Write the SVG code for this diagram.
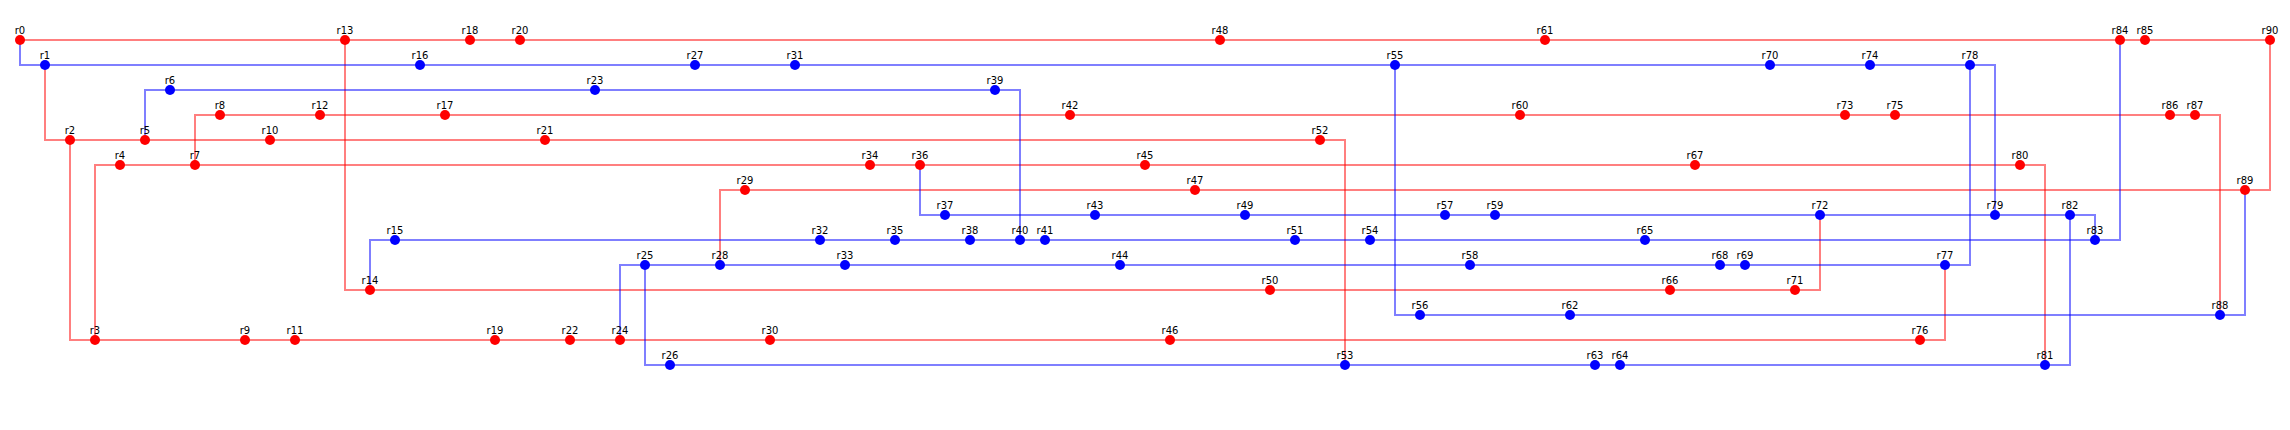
<svg xmlns="http://www.w3.org/2000/svg" width="2290" height="430" viewBox="0 0 2290 430">
<style>
.e{fill:none;stroke-width:2;stroke-opacity:0.5}
.er{stroke:#ff0000}
.eb{stroke:#0000ff}
.R circle{fill:#ff0000}
.B circle{fill:#0000ff}
text{font-family:"DejaVu Sans",sans-serif;font-size:10px;text-anchor:middle;fill:#000}
</style>
<rect width="2290" height="430" fill="#ffffff"/>
<g id="connectors">
<path class="e er" d="M20,40 H2270 V190 H720 V265"/>
<path class="e er" d="M345,40 V290 H1820 V215"/>
<path class="e er" d="M45,65 V140 H1345 V365"/>
<path class="e er" d="M70,140 V340 H1945 V265"/>
<path class="e er" d="M95,340 V165 H2045 V365"/>
<path class="e er" d="M195,165 V115 H2220 V315"/>
<path class="e eb" d="M20,40 V65 H1995 V215"/>
<path class="e eb" d="M145,140 V90 H1020 V240"/>
<path class="e eb" d="M920,165 V215 H2095 V240"/>
<path class="e eb" d="M370,290 V240 H2120 V40"/>
<path class="e eb" d="M620,340 V265 H1970 V65"/>
<path class="e eb" d="M645,265 V365 H2070 V215"/>
<path class="e eb" d="M1395,65 V315 H2245 V190"/>
</g>
<g id="r0" class="R"><circle cx="20" cy="40" r="5"/><text x="20" y="33.5">r0</text></g>
<g id="r1" class="B"><circle cx="45" cy="65" r="5"/><text x="45" y="58.5">r1</text></g>
<g id="r2" class="R"><circle cx="70" cy="140" r="5"/><text x="70" y="133.5">r2</text></g>
<g id="r3" class="R"><circle cx="95" cy="340" r="5"/><text x="95" y="333.5">r3</text></g>
<g id="r4" class="R"><circle cx="120" cy="165" r="5"/><text x="120" y="158.5">r4</text></g>
<g id="r5" class="R"><circle cx="145" cy="140" r="5"/><text x="145" y="133.5">r5</text></g>
<g id="r6" class="B"><circle cx="170" cy="90" r="5"/><text x="170" y="83.5">r6</text></g>
<g id="r7" class="R"><circle cx="195" cy="165" r="5"/><text x="195" y="158.5">r7</text></g>
<g id="r8" class="R"><circle cx="220" cy="115" r="5"/><text x="220" y="108.5">r8</text></g>
<g id="r9" class="R"><circle cx="245" cy="340" r="5"/><text x="245" y="333.5">r9</text></g>
<g id="r10" class="R"><circle cx="270" cy="140" r="5"/><text x="270" y="133.5">r10</text></g>
<g id="r11" class="R"><circle cx="295" cy="340" r="5"/><text x="295" y="333.5">r11</text></g>
<g id="r12" class="R"><circle cx="320" cy="115" r="5"/><text x="320" y="108.5">r12</text></g>
<g id="r13" class="R"><circle cx="345" cy="40" r="5"/><text x="345" y="33.5">r13</text></g>
<g id="r14" class="R"><circle cx="370" cy="290" r="5"/><text x="370" y="283.5">r14</text></g>
<g id="r15" class="B"><circle cx="395" cy="240" r="5"/><text x="395" y="233.5">r15</text></g>
<g id="r16" class="B"><circle cx="420" cy="65" r="5"/><text x="420" y="58.5">r16</text></g>
<g id="r17" class="R"><circle cx="445" cy="115" r="5"/><text x="445" y="108.5">r17</text></g>
<g id="r18" class="R"><circle cx="470" cy="40" r="5"/><text x="470" y="33.5">r18</text></g>
<g id="r19" class="R"><circle cx="495" cy="340" r="5"/><text x="495" y="333.5">r19</text></g>
<g id="r20" class="R"><circle cx="520" cy="40" r="5"/><text x="520" y="33.5">r20</text></g>
<g id="r21" class="R"><circle cx="545" cy="140" r="5"/><text x="545" y="133.5">r21</text></g>
<g id="r22" class="R"><circle cx="570" cy="340" r="5"/><text x="570" y="333.5">r22</text></g>
<g id="r23" class="B"><circle cx="595" cy="90" r="5"/><text x="595" y="83.5">r23</text></g>
<g id="r24" class="R"><circle cx="620" cy="340" r="5"/><text x="620" y="333.5">r24</text></g>
<g id="r25" class="B"><circle cx="645" cy="265" r="5"/><text x="645" y="258.5">r25</text></g>
<g id="r26" class="B"><circle cx="670" cy="365" r="5"/><text x="670" y="358.5">r26</text></g>
<g id="r27" class="B"><circle cx="695" cy="65" r="5"/><text x="695" y="58.5">r27</text></g>
<g id="r28" class="B"><circle cx="720" cy="265" r="5"/><text x="720" y="258.5">r28</text></g>
<g id="r29" class="R"><circle cx="745" cy="190" r="5"/><text x="745" y="183.5">r29</text></g>
<g id="r30" class="R"><circle cx="770" cy="340" r="5"/><text x="770" y="333.5">r30</text></g>
<g id="r31" class="B"><circle cx="795" cy="65" r="5"/><text x="795" y="58.5">r31</text></g>
<g id="r32" class="B"><circle cx="820" cy="240" r="5"/><text x="820" y="233.5">r32</text></g>
<g id="r33" class="B"><circle cx="845" cy="265" r="5"/><text x="845" y="258.5">r33</text></g>
<g id="r34" class="R"><circle cx="870" cy="165" r="5"/><text x="870" y="158.5">r34</text></g>
<g id="r35" class="B"><circle cx="895" cy="240" r="5"/><text x="895" y="233.5">r35</text></g>
<g id="r36" class="R"><circle cx="920" cy="165" r="5"/><text x="920" y="158.5">r36</text></g>
<g id="r37" class="B"><circle cx="945" cy="215" r="5"/><text x="945" y="208.5">r37</text></g>
<g id="r38" class="B"><circle cx="970" cy="240" r="5"/><text x="970" y="233.5">r38</text></g>
<g id="r39" class="B"><circle cx="995" cy="90" r="5"/><text x="995" y="83.5">r39</text></g>
<g id="r40" class="B"><circle cx="1020" cy="240" r="5"/><text x="1020" y="233.5">r40</text></g>
<g id="r41" class="B"><circle cx="1045" cy="240" r="5"/><text x="1045" y="233.5">r41</text></g>
<g id="r42" class="R"><circle cx="1070" cy="115" r="5"/><text x="1070" y="108.5">r42</text></g>
<g id="r43" class="B"><circle cx="1095" cy="215" r="5"/><text x="1095" y="208.5">r43</text></g>
<g id="r44" class="B"><circle cx="1120" cy="265" r="5"/><text x="1120" y="258.5">r44</text></g>
<g id="r45" class="R"><circle cx="1145" cy="165" r="5"/><text x="1145" y="158.5">r45</text></g>
<g id="r46" class="R"><circle cx="1170" cy="340" r="5"/><text x="1170" y="333.5">r46</text></g>
<g id="r47" class="R"><circle cx="1195" cy="190" r="5"/><text x="1195" y="183.5">r47</text></g>
<g id="r48" class="R"><circle cx="1220" cy="40" r="5"/><text x="1220" y="33.5">r48</text></g>
<g id="r49" class="B"><circle cx="1245" cy="215" r="5"/><text x="1245" y="208.5">r49</text></g>
<g id="r50" class="R"><circle cx="1270" cy="290" r="5"/><text x="1270" y="283.5">r50</text></g>
<g id="r51" class="B"><circle cx="1295" cy="240" r="5"/><text x="1295" y="233.5">r51</text></g>
<g id="r52" class="R"><circle cx="1320" cy="140" r="5"/><text x="1320" y="133.5">r52</text></g>
<g id="r53" class="B"><circle cx="1345" cy="365" r="5"/><text x="1345" y="358.5">r53</text></g>
<g id="r54" class="B"><circle cx="1370" cy="240" r="5"/><text x="1370" y="233.5">r54</text></g>
<g id="r55" class="B"><circle cx="1395" cy="65" r="5"/><text x="1395" y="58.5">r55</text></g>
<g id="r56" class="B"><circle cx="1420" cy="315" r="5"/><text x="1420" y="308.5">r56</text></g>
<g id="r57" class="B"><circle cx="1445" cy="215" r="5"/><text x="1445" y="208.5">r57</text></g>
<g id="r58" class="B"><circle cx="1470" cy="265" r="5"/><text x="1470" y="258.5">r58</text></g>
<g id="r59" class="B"><circle cx="1495" cy="215" r="5"/><text x="1495" y="208.5">r59</text></g>
<g id="r60" class="R"><circle cx="1520" cy="115" r="5"/><text x="1520" y="108.5">r60</text></g>
<g id="r61" class="R"><circle cx="1545" cy="40" r="5"/><text x="1545" y="33.5">r61</text></g>
<g id="r62" class="B"><circle cx="1570" cy="315" r="5"/><text x="1570" y="308.5">r62</text></g>
<g id="r63" class="B"><circle cx="1595" cy="365" r="5"/><text x="1595" y="358.5">r63</text></g>
<g id="r64" class="B"><circle cx="1620" cy="365" r="5"/><text x="1620" y="358.5">r64</text></g>
<g id="r65" class="B"><circle cx="1645" cy="240" r="5"/><text x="1645" y="233.5">r65</text></g>
<g id="r66" class="R"><circle cx="1670" cy="290" r="5"/><text x="1670" y="283.5">r66</text></g>
<g id="r67" class="R"><circle cx="1695" cy="165" r="5"/><text x="1695" y="158.5">r67</text></g>
<g id="r68" class="B"><circle cx="1720" cy="265" r="5"/><text x="1720" y="258.5">r68</text></g>
<g id="r69" class="B"><circle cx="1745" cy="265" r="5"/><text x="1745" y="258.5">r69</text></g>
<g id="r70" class="B"><circle cx="1770" cy="65" r="5"/><text x="1770" y="58.5">r70</text></g>
<g id="r71" class="R"><circle cx="1795" cy="290" r="5"/><text x="1795" y="283.5">r71</text></g>
<g id="r72" class="B"><circle cx="1820" cy="215" r="5"/><text x="1820" y="208.5">r72</text></g>
<g id="r73" class="R"><circle cx="1845" cy="115" r="5"/><text x="1845" y="108.5">r73</text></g>
<g id="r74" class="B"><circle cx="1870" cy="65" r="5"/><text x="1870" y="58.5">r74</text></g>
<g id="r75" class="R"><circle cx="1895" cy="115" r="5"/><text x="1895" y="108.5">r75</text></g>
<g id="r76" class="R"><circle cx="1920" cy="340" r="5"/><text x="1920" y="333.5">r76</text></g>
<g id="r77" class="B"><circle cx="1945" cy="265" r="5"/><text x="1945" y="258.5">r77</text></g>
<g id="r78" class="B"><circle cx="1970" cy="65" r="5"/><text x="1970" y="58.5">r78</text></g>
<g id="r79" class="B"><circle cx="1995" cy="215" r="5"/><text x="1995" y="208.5">r79</text></g>
<g id="r80" class="R"><circle cx="2020" cy="165" r="5"/><text x="2020" y="158.5">r80</text></g>
<g id="r81" class="B"><circle cx="2045" cy="365" r="5"/><text x="2045" y="358.5">r81</text></g>
<g id="r82" class="B"><circle cx="2070" cy="215" r="5"/><text x="2070" y="208.5">r82</text></g>
<g id="r83" class="B"><circle cx="2095" cy="240" r="5"/><text x="2095" y="233.5">r83</text></g>
<g id="r84" class="R"><circle cx="2120" cy="40" r="5"/><text x="2120" y="33.5">r84</text></g>
<g id="r85" class="R"><circle cx="2145" cy="40" r="5"/><text x="2145" y="33.5">r85</text></g>
<g id="r86" class="R"><circle cx="2170" cy="115" r="5"/><text x="2170" y="108.5">r86</text></g>
<g id="r87" class="R"><circle cx="2195" cy="115" r="5"/><text x="2195" y="108.5">r87</text></g>
<g id="r88" class="B"><circle cx="2220" cy="315" r="5"/><text x="2220" y="308.5">r88</text></g>
<g id="r89" class="R"><circle cx="2245" cy="190" r="5"/><text x="2245" y="183.5">r89</text></g>
<g id="r90" class="R"><circle cx="2270" cy="40" r="5"/><text x="2270" y="33.5">r90</text></g>
</svg>
